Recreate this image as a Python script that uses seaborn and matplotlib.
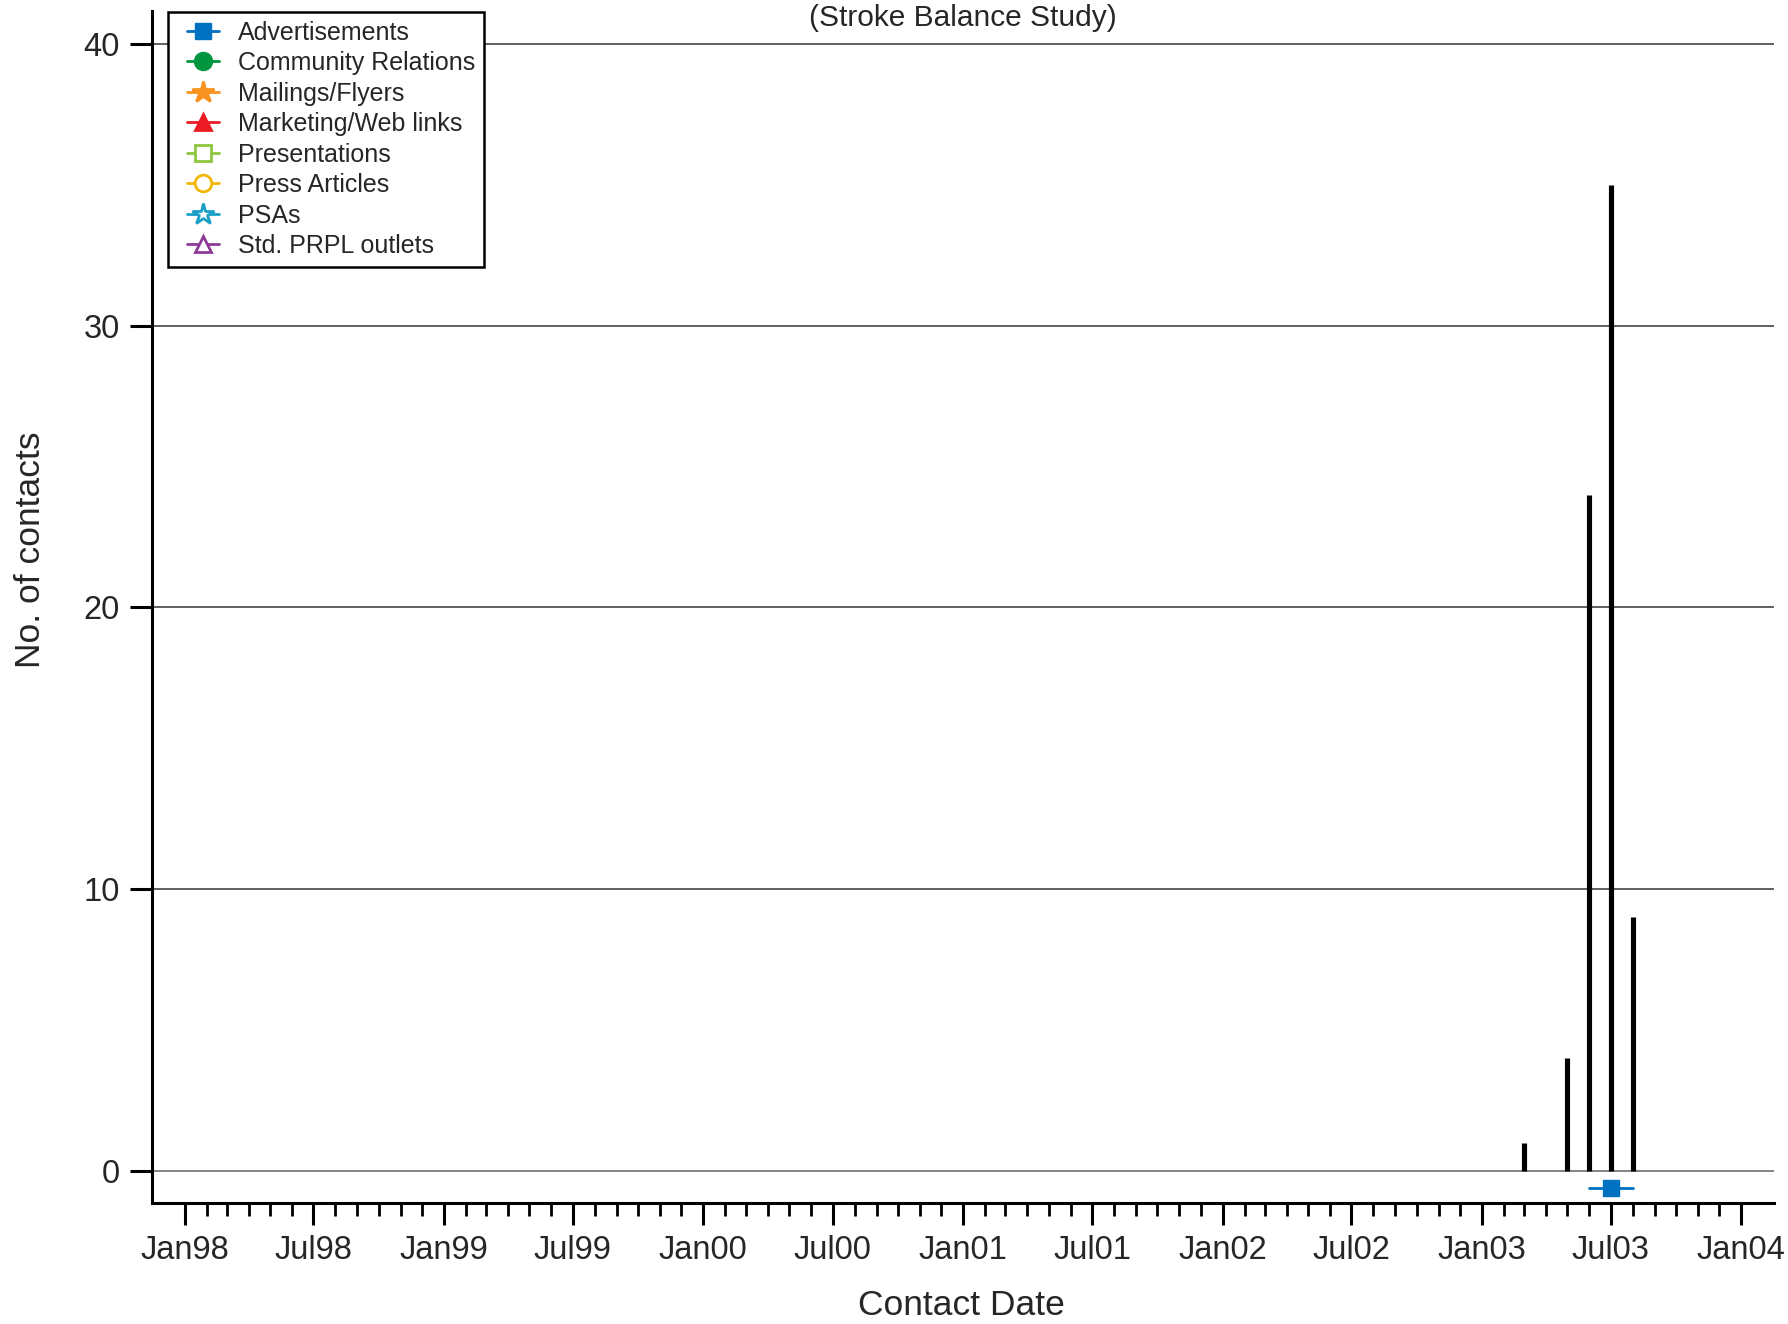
import matplotlib
matplotlib.use('Agg')
import matplotlib.pyplot as plt
import matplotlib.dates as mdates
import matplotlib.ticker as mticker
from matplotlib.legend_handler import HandlerLine2D
import numpy as np
import pandas as pd
import seaborn as sns

# data
months = ['2003-03-01', '2003-05-01', '2003-06-01', '2003-07-01', '2003-08-01']
contacts = [1, 4, 24, 35, 9]

# Advertisement run (shown below zero)
ad_dates = ['2003-06-01', '2003-07-01', '2003-08-01']
ad_level = -0.6

categories = ['Advertisements', 'Community Relations', 'Mailings/Flyers',
              'Marketing/Web links', 'Presentations', 'Press Articles',
              'PSAs', 'Std. PRPL outlets']
cat_colors = ['#0070C0', '#00963F', '#F7931E', '#ED1C24',
              '#8DC63F', '#F2B705', '#1BA1C8', '#8E3A97']
cat_markers = ['s', 'o', '*', '^', 's', 'o', '*', '^']
cat_filled = [True, True, True, True, False, False, False, False]

y_ticks = [0, 10, 20, 30, 40]
tick_start, tick_end = '1998-01-01', '2004-01-01'

# Set the style
sns.set_style("white")
plt.rcParams['font.family'] = ['Liberation Sans', 'DejaVu Sans']

df = pd.DataFrame({'date': pd.to_datetime(months), 'n': contacts})

fig = plt.figure(figsize=(17.88, 13.24), dpi=100)
ax = fig.add_axes([0.0850, 0.0914, 0.9072, 0.9003])

# grid lines
for yv in y_ticks:
    ax.axhline(yv, color='#555555' if yv else '#7a7a7a', lw=1.3, zorder=1)

# contact bars
ax.vlines(df['date'], 0, df['n'], color='black', lw=3.7, zorder=3)

# legend handles + the one advertisement entry
for cat, col, mk, filled in zip(categories, cat_colors, cat_markers, cat_filled):
    ms = 16 if mk == '*' else 12
    if cat == 'Advertisements':
        ax.plot(pd.to_datetime(ad_dates), [ad_level] * len(ad_dates), color=col,
                lw=2, marker=mk, markevery=[1], ms=ms, label=cat, zorder=4)
    else:
        ax.plot([], [], color=col, lw=2, marker=mk, ms=ms, label=cat,
                markerfacecolor=col if filled else 'white',
                markeredgecolor=col, markeredgewidth=2)

ax.set_xlim(pd.Timestamp('1997-11-16'), pd.Timestamp('2004-02-16'))
ax.set_ylim(-1.136, 41.17)

major = pd.date_range(tick_start, tick_end, freq='6MS')
minor = pd.date_range(tick_start, tick_end, freq='MS')
ax.xaxis.set_major_locator(mticker.FixedLocator(mdates.date2num(major)))
ax.xaxis.set_minor_locator(mticker.FixedLocator(mdates.date2num(minor)))
ax.xaxis.set_major_formatter(mdates.DateFormatter('%b%y'))
ax.set_yticks(y_ticks)

for s in ['top', 'right']:
    ax.spines[s].set_visible(False)
for s in ['left', 'bottom']:
    ax.spines[s].set_color('black')
    ax.spines[s].set_linewidth(2.2)

ax.tick_params(axis='both', which='major', direction='out', length=16, width=2.2,
               labelsize=23.5, color='black', pad=7, bottom=True, left=True)
ax.tick_params(axis='x', which='minor', direction='out', length=9, width=2.0,
               color='black', bottom=True)

ax.set_xlabel('Contact Date', fontsize=25.5)
ax.set_ylabel('No. of contacts', fontsize=25.5)
ax.xaxis.set_label_coords(0.499, -0.072)
ax.yaxis.set_label_coords(-0.065, 0.548)

ax.set_title('(Stroke Balance Study)', fontsize=21.5, y=0.994, va='center', pad=0)

leg = ax.legend(loc='upper left', bbox_to_anchor=(0.0099, 0.9992), borderaxespad=0,
                fontsize=18, fancybox=False, framealpha=1, edgecolor='black',
                handlelength=1.7, handletextpad=0.75, labelspacing=0.26,
                borderpad=0.35, handler_map={plt.Line2D: HandlerLine2D(xpad=0.4)})
leg.get_frame().set_linewidth(1.8)
leg.set_zorder(5)

plt.savefig('out.png', dpi=100)
